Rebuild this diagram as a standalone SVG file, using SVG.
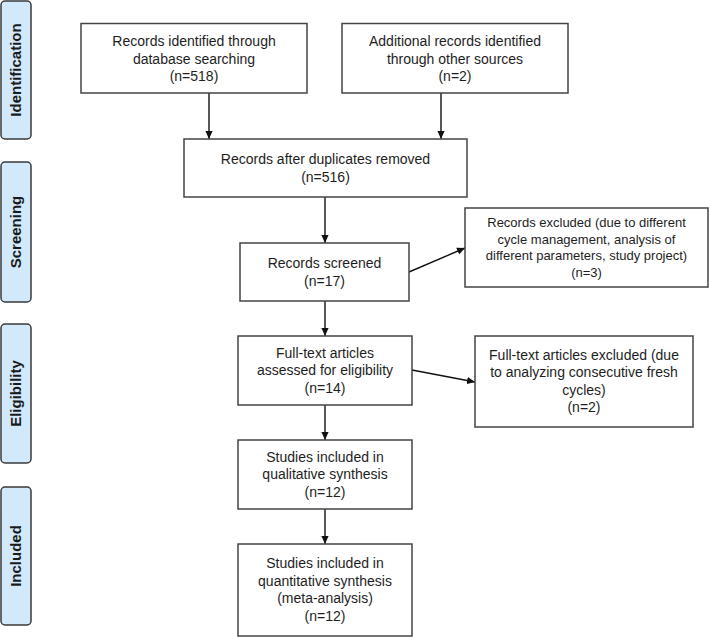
<svg xmlns="http://www.w3.org/2000/svg" width="709" height="638" viewBox="0 0 709 638">
<style>
.bg{fill:#ffffff}
.box{fill:#ffffff;stroke:#444444;stroke-width:1.5}
.side{fill:#d2e8fb;stroke:#3a3a3a;stroke-width:1.5}
.t{font-family:"Liberation Sans",Arial,sans-serif;font-size:14px;fill:#1e1e1e;text-anchor:middle}
.t13{font-family:"Liberation Sans",Arial,sans-serif;font-size:13px;fill:#1e1e1e;text-anchor:middle}
.st{font-family:"Liberation Sans",Arial,sans-serif;font-size:15px;font-weight:bold;fill:#1a1a1a;text-anchor:middle}
.c{stroke:#111111;stroke-width:1.4;fill:none;marker-end:url(#ah)}
</style>
<defs>
<marker id="ah" viewBox="0 0 10 10" refX="10" refY="5" markerWidth="8" markerHeight="8" markerUnits="userSpaceOnUse" orient="auto">
<path d="M0,0.5 L10,5 L0,9.5 Z" fill="#111111"/>
</marker>
</defs>
<rect class="bg" x="0" y="0" width="709" height="638"/>

<g id="stage-identification">
<rect class="side" x="1" y="1" width="30" height="138" rx="4"/>
<text class="st" transform="translate(21,70) rotate(-90)">Identification</text>
</g>
<g id="stage-screening">
<rect class="side" x="1" y="162" width="30" height="140" rx="4"/>
<text class="st" transform="translate(21,232) rotate(-90)">Screening</text>
</g>
<g id="stage-eligibility">
<rect class="side" x="1" y="324" width="30" height="139" rx="4"/>
<text class="st" transform="translate(21,393.5) rotate(-90)">Eligibility</text>
</g>
<g id="stage-included">
<rect class="side" x="1" y="487" width="30" height="138" rx="4"/>
<text class="st" transform="translate(21,556) rotate(-90)">Included</text>
</g>

<g id="connectors">
<line class="c" x1="209" y1="93" x2="209" y2="139"/>
<line class="c" x1="441" y1="93" x2="441" y2="139"/>
<line class="c" x1="325" y1="197" x2="325" y2="243"/>
<line class="c" x1="409" y1="272" x2="465" y2="248"/>
<line class="c" x1="325" y1="301" x2="325" y2="336"/>
<line class="c" x1="412" y1="370" x2="475" y2="382"/>
<line class="c" x1="325" y1="405" x2="325" y2="440"/>
<line class="c" x1="325" y1="509" x2="325" y2="544"/>
</g>

<g id="records-database">
<rect class="box" x="81" y="23.5" width="226" height="69.5"/>
<text class="t" x="194" y="46">Records identified through</text>
<text class="t" x="194" y="63.5">database searching</text>
<text class="t" x="194" y="81">(n=518)</text>
</g>
<g id="records-other">
<rect class="box" x="342" y="23.5" width="226" height="69.5"/>
<text class="t" x="455" y="46">Additional records identified</text>
<text class="t" x="455" y="63.5">through other sources</text>
<text class="t" x="455" y="81">(n=2)</text>
</g>
<g id="records-dedup">
<rect class="box" x="184" y="139" width="283" height="58"/>
<text class="t" x="325.5" y="164">Records after duplicates removed</text>
<text class="t" x="325.5" y="181.5">(n=516)</text>
</g>
<g id="records-screened">
<rect class="box" x="240" y="243" width="169" height="58"/>
<text class="t" x="324.5" y="268">Records screened</text>
<text class="t" x="324.5" y="285.5">(n=17)</text>
</g>
<g id="records-excluded">
<rect class="box" x="465" y="208" width="243" height="79"/>
<text class="t13" x="586.5" y="227">Records excluded (due to different</text>
<text class="t13" x="586.5" y="243.5">cycle management, analysis of</text>
<text class="t13" x="586.5" y="260">different parameters, study project)</text>
<text class="t13" x="586.5" y="276.5">(n=3)</text>
</g>
<g id="fulltext-assessed">
<rect class="box" x="238" y="336" width="174" height="69"/>
<text class="t" x="325" y="357.5">Full-text articles</text>
<text class="t" x="325" y="375">assessed for eligibility</text>
<text class="t" x="325" y="392.5">(n=14)</text>
</g>
<g id="fulltext-excluded">
<rect class="box" x="475" y="336" width="218" height="91"/>
<text class="t" x="584" y="359.5">Full-text articles excluded (due</text>
<text class="t" x="584" y="377">to analyzing consecutive fresh</text>
<text class="t" x="584" y="394.5">cycles)</text>
<text class="t" x="584" y="412">(n=2)</text>
</g>
<g id="qualitative">
<rect class="box" x="238" y="440" width="174" height="69"/>
<text class="t" x="325" y="461.5">Studies included in</text>
<text class="t" x="325" y="479">qualitative synthesis</text>
<text class="t" x="325" y="496.5">(n=12)</text>
</g>
<g id="quantitative">
<rect class="box" x="238" y="544" width="174" height="92"/>
<text class="t" x="325" y="568">Studies included in</text>
<text class="t" x="325" y="585.5">quantitative synthesis</text>
<text class="t" x="325" y="603">(meta-analysis)</text>
<text class="t" x="325" y="620.5">(n=12)</text>
</g>
</svg>
